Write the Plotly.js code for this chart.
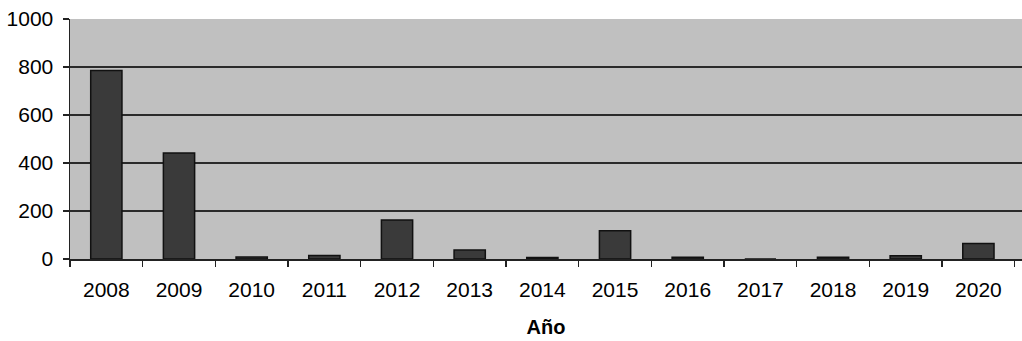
<!DOCTYPE html>
<html>
<head>
<meta charset="utf-8">
<script src="https://cdn.plot.ly/plotly-3.0.1.min.js"></script>
<style>html,body{margin:0;padding:0;background:#fff;}#chart{width:1022px;height:341px;}</style>
</head>
<body>
<div id="chart"></div>
<script>
const years = ["2008","2009","2010","2011","2012","2013","2014","2015","2016","2017","2018","2019","2020"];
const values = [785, 442, 8, 15, 162, 37, 6, 118, 7, 0, 7, 14, 65];
const yTicks = [0, 200, 400, 600, 800, 1000];

const font = {family: "Liberation Sans, Arial, sans-serif", size: 21, color: "#000"};

Plotly.newPlot("chart", [{
  type: "bar",
  x: years,
  y: values,
  marker: {color: "#3a3a3a", line: {color: "#111", width: 1.5}},
  width: 0.43,
  hoverinfo: "none"
}], {
  width: 1022, height: 341,
  margin: {l: 70, r: 0, t: 19, b: 82},
  paper_bgcolor: "#ffffff",
  plot_bgcolor: "#c0c0c0",
  font: font,
  showlegend: false,
  xaxis: {
    type: "category",
    range: [-0.5, 12.6],
    tickson: "boundaries",
    ticks: "outside", ticklen: 6, tickwidth: 1.5, tickcolor: "#222",
    showline: true, linecolor: "#222", linewidth: 1.5,
    showgrid: false,
    ticklabelstandoff: 11,
    tickfont: font,
    title: {text: "<b>Año</b>", font: {family: "Liberation Sans, Arial, sans-serif", size: 20, color: "#000"}, standoff: 20}
  },
  yaxis: {
    range: [0, 1000],
    tickvals: yTicks,
    ticktext: yTicks.map(String),
    ticks: "outside", ticklen: 6, tickwidth: 1.5, tickcolor: "#222",
    showline: true, linecolor: "#222", linewidth: 1.5,
    showgrid: true, gridcolor: "#2a2a2a", gridwidth: 1.5,
    zeroline: false,
    ticklabelstandoff: 5,
    tickfont: font
  }
}, {staticPlot: true});
</script>
</body>
</html>
